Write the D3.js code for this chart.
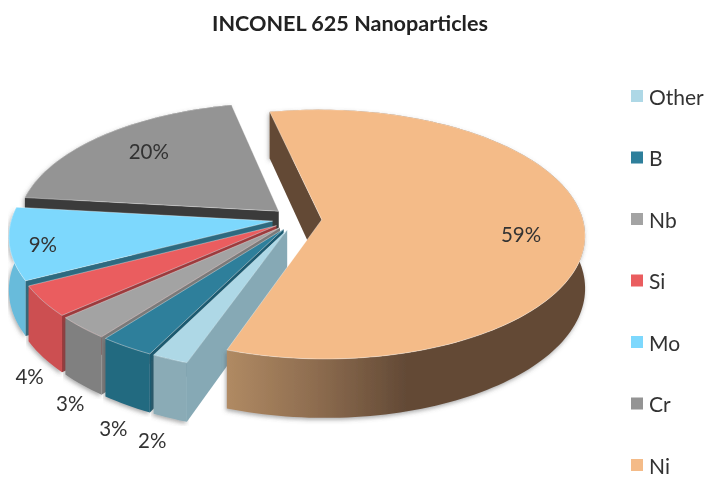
<!DOCTYPE html>
<html>
<head>
<meta charset="utf-8">
<script src="https://cdn.jsdelivr.net/npm/d3@7"></script>
<style>
  html, body { margin: 0; padding: 0; background: #fff; }
  svg { display: block; }
  text { font-family: Lato, "Open Sans", sans-serif; fill: #333; }
</style>
</head>
<body>
<div id="visualization"></div>
<script>
// Clockwise from the bottom left of the pie, same order as the legend
const categories = ['Other', 'B', 'Nb', 'Si', 'Mo', 'Cr', 'Ni'];
const values = [2, 3, 3, 4, 9.4, 19.8, 58.8];

const topColors = ['#aed8e6', '#2f7f9b', '#a3a3a3', '#ea5d5f', '#7dd8fd', '#949494', '#f4bb88'];
const wallColors = ['#8aabb6', '#246a80', '#808080', '#cc4f51', '#68bbdb', '#5e5e5e', 'url(#niWall)'];
const edgeColors = ['#86a9b5', '#1c5a70', '#7a7a7a', '#9c3a3c', '#2d6b80', '#3a3a3a', '#634a36'];
const legendColors = ['#aed8e6', '#2f7f9b', '#a3a3a3', '#ea5d5f', '#7dd8fd', '#949494', '#f4bb88'];

// Where each percentage sits: radius factor and angle nudge, outside ones hang below the wall
const labelRadius = [1.195, 1.19, 1.148, 1.135, 0.877, 0.755, 0.76];
const labelNudge = [-1.5, -4, -5, -7, -1.6, 2.5, 5];
const labelBelow = [true, true, true, true, false, false, false];

const width = 705;
const height = 477;

// Tilted pie with a little perspective
const cx = 297, cy = 219;
const rx = 261, ry = 122.8;
const persp = 0.1166;
const depth = 52;
const labelDrop = 43;
const explode = 0.095;

const svg = d3.select('#visualization')
    .append('svg')
    .attr('width', width)
    .attr('height', height);

const defs = svg.append('defs');

const grad = defs.append('linearGradient')
    .attr('id', 'niWall')
    .attr('gradientUnits', 'userSpaceOnUse')
    .attr('x1', 227).attr('x2', 585).attr('y1', 0).attr('y2', 0);
grad.append('stop').attr('offset', '0%').attr('stop-color', '#b08a63');
grad.append('stop').attr('offset', '25%').attr('stop-color', '#8d6c4f');
grad.append('stop').attr('offset', '50%').attr('stop-color', '#634a36');
grad.append('stop').attr('offset', '100%').attr('stop-color', '#634a36');

defs.append('filter').attr('id', 'soft')
    .attr('x', '-5%').attr('y', '-5%').attr('width', '110%').attr('height', '110%')
    .append('feDropShadow')
    .attr('dx', -1).attr('dy', 2).attr('stdDeviation', 2)
    .attr('flood-color', '#555').attr('flood-opacity', 0.5);

defs.append('filter').attr('id', 'blur')
    .append('feGaussianBlur').attr('stdDeviation', 0.45);

const pie = d3.pie()
    .sort(null)
    .startAngle(199.5 * Math.PI / 180)
    .endAngle((199.5 + 360) * Math.PI / 180);

const arcs = pie(values);

// Point on the pie plane, drop = how far down the side wall
function project(d, r, angle, drop) {
    const mid = (d.startAngle + d.endAngle) / 2;
    const u = explode * Math.sin(mid) + r * Math.sin(angle);
    const v = explode * Math.cos(mid) + r * Math.cos(angle);
    const w = 1 + persp * v;
    return [cx + rx * u / w, cy - ry * v / w + (drop || 0) / w];
}

function arcPoints(d, drop) {
    const n = Math.ceil((d.endAngle - d.startAngle) / (Math.PI / 120));
    return d3.range(n + 1).map(i =>
        project(d, 1, d.startAngle + (d.endAngle - d.startAngle) * i / n, drop));
}

const line = d3.line();
const closed = pts => line(pts) + 'Z';

const chart = svg.append('g').attr('filter', 'url(#blur)');

// Slices go from the back to the front, Ni goes last and covers the others
const drawOrder = [5, 4, 3, 2, 1, 0, 6];

const slices = chart.selectAll('g.slice')
    .data(drawOrder.map(i => Object.assign({ idx: i }, arcs[i])))
    .enter()
    .append('g')
    .attr('class', 'slice');

// outer wall
slices.append('path')
    .attr('d', d => closed(arcPoints(d, 0).concat(arcPoints(d, depth).reverse())))
    .attr('fill', d => wallColors[d.idx])
    .attr('filter', 'url(#soft)');

// wall along the start edge
slices.append('path')
    .attr('d', d => closed([
        project(d, 0, d.startAngle, 0),
        project(d, 1, d.startAngle, 0),
        project(d, 1, d.startAngle, depth),
        project(d, 0, d.startAngle, depth)
    ]))
    .attr('fill', d => edgeColors[d.idx]);

// top face
slices.append('path')
    .attr('d', d => closed([project(d, 0, d.startAngle, 0)].concat(arcPoints(d, 0))))
    .attr('fill', d => topColors[d.idx])
    .attr('stroke', '#fff')
    .attr('stroke-opacity', 0.45)
    .attr('stroke-width', 0.8);

// Percent labels
chart.selectAll('text.pct')
    .data(arcs)
    .enter()
    .append('text')
    .attr('class', 'pct')
    .attr('text-anchor', 'middle')
    .attr('dominant-baseline', 'central')
    .attr('font-size', 20.5)
    .attr('transform', (d, i) => {
        const mid = (d.startAngle + d.endAngle) / 2 + labelNudge[i] * Math.PI / 180;
        const p = project(d, labelRadius[i], mid, labelBelow[i] ? labelDrop : 0);
        return `translate(${p[0]},${p[1]})`;
    })
    .text(d => d3.format('.0f')(d.value) + '%');

// Title
chart.append('text')
    .attr('x', 350)
    .attr('y', 31)
    .attr('text-anchor', 'middle')
    .attr('font-size', 21.6)
    .attr('font-weight', 700)
    .style('fill', '#222')
    .text('INCONEL 625 Nanoparticles');

// Legend
const legendY = d3.scalePoint()
    .domain(categories)
    .range([96, 465]);

const legend = chart.selectAll('g.legend')
    .data(categories)
    .enter()
    .append('g')
    .attr('class', 'legend')
    .attr('transform', d => `translate(631,${legendY(d)})`);

legend.append('rect')
    .attr('x', 0)
    .attr('y', -6)
    .attr('width', 12)
    .attr('height', 12)
    .attr('fill', (d, i) => legendColors[i]);

legend.append('text')
    .attr('x', 18)
    .attr('dominant-baseline', 'central')
    .attr('font-size', 21)
    .text(d => d);
</script>
</body>
</html>
